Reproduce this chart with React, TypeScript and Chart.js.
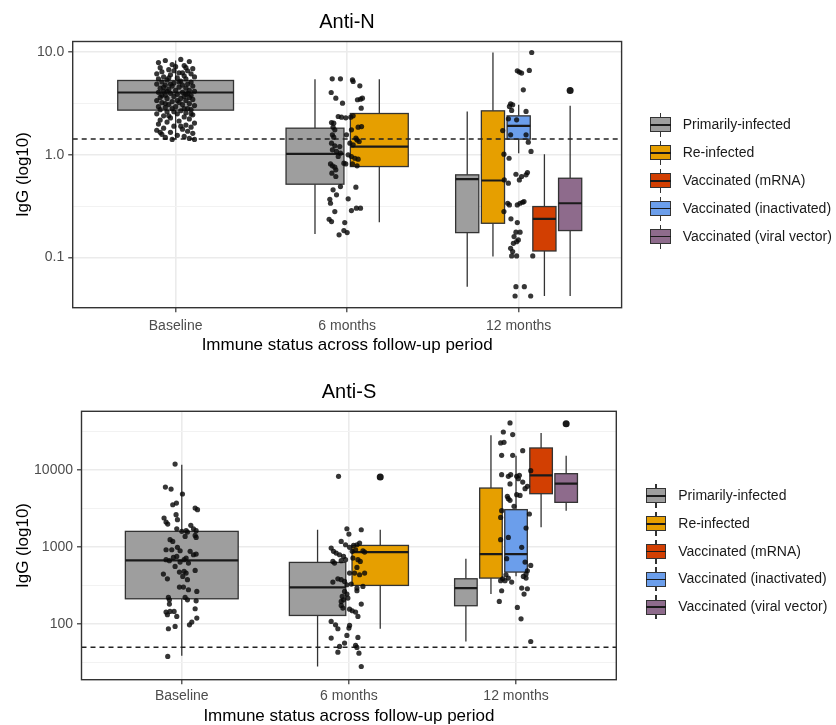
import React, { useEffect, useRef } from 'react';
import { Chart, registerables } from 'chart.js';

Chart.register(...registerables);

// ---------------- DATA ----------------
const timepoints = ['Baseline', '6 months', '12 months'];
const groups = [
  'Primarily-infected',
  'Re-infected',
  'Vaccinated (mRNA)',
  'Vaccinated (inactivated)',
  'Vaccinated (viral vector)',
];
const groupColors = ['#9E9E9E', '#E69F00', '#D23F02', '#6B9EEB', '#8E6B8C'];

// groups present at each timepoint, in the order the boxes are dodged
const boxGroupsPerTimepoint = [[0], [0, 1], [0, 1, 3, 2, 4]];

// Anti-N box stats: [lower whisker, Q1, median, Q3, upper whisker] in log10 IgG
const antiN_baselineBoxes = [[0.155, 0.436, 0.608, 0.725, 0.92]];
const antiN_6mBoxes = [
  [-0.771, -0.286, 0.01, 0.26, 0.738],
  [-0.657, -0.114, 0.081, 0.403, 0.738],
];
const antiN_12mBoxes = [
  [-1.285, -0.758, -0.237, -0.195, 0.423],
  [-0.992, -0.667, -0.25, 0.429, 0.998],
  [0.016, 0.153, 0.283, 0.38, 0.488],
  [-1.376, -0.937, -0.624, -0.504, 0.007],
  [-1.376, -0.738, -0.472, -0.228, 0.478],
];
// outliers: [timepoint index, group index, log10 IgG]
const antiN_outliers = [[2, 4, 0.628]];
const antiN_cutoffLog10 = 0.155;

// Anti-S box stats
const antiS_baselineBoxes = [[1.59, 2.328, 2.825, 3.201, 4.065]];
const antiS_6mBoxes = [
  [1.451, 2.112, 2.475, 2.799, 3.222],
  [1.94, 2.501, 2.933, 3.019, 3.222],
];
const antiS_12mBoxes = [
  [1.775, 2.238, 2.467, 2.587, 2.847],
  [2.389, 2.596, 2.907, 3.762, 4.445],
  [2.62, 2.674, 2.907, 3.482, 4.181],
  [3.253, 3.689, 3.927, 4.281, 4.475],
  [3.469, 3.577, 3.819, 3.948, 4.181],
];
const antiS_outliers = [
  [1, 1, 3.905],
  [2, 4, 4.596],
];
const antiS_cutoffLog10 = 1.7;

// jittered observations: [jitter offset, log10 IgG]
const antiN_baselinePoints = [
  [-0.10, 0.90], [-0.06, 0.92], [0.03, 0.93], [0.08, 0.91], [-0.02, 0.88], [0.05, 0.87], [-0.09, 0.85], [0.10, 0.84], [0.00, 0.86], [-0.04, 0.83],
  [0.07, 0.82], [-0.08, 0.81], [0.02, 0.80], [-0.11, 0.79], [0.09, 0.79], [-0.03, 0.78], [0.05, 0.77], [-0.07, 0.76], [0.11, 0.76], [0.01, 0.75],
  [-0.10, 0.74], [0.06, 0.74], [-0.05, 0.73], [0.03, 0.72], [0.09, 0.71], [-0.08, 0.71], [-0.01, 0.70], [0.07, 0.69], [-0.11, 0.69], [0.04, 0.68],
  [-0.06, 0.68], [0.10, 0.67], [-0.02, 0.67], [0.02, 0.66], [-0.09, 0.65], [0.06, 0.65], [-0.04, 0.64], [0.08, 0.63], [0.00, 0.63], [-0.07, 0.62],
  [0.11, 0.62], [0.04, 0.61], [-0.10, 0.61], [-0.03, 0.60], [0.07, 0.60], [0.01, 0.59], [-0.06, 0.58], [0.09, 0.58], [-0.01, 0.57], [0.05, 0.57],
  [-0.09, 0.56], [0.03, 0.55], [-0.05, 0.55], [0.10, 0.54], [-0.11, 0.53], [0.06, 0.53], [-0.02, 0.52], [0.02, 0.51], [-0.08, 0.51], [0.08, 0.50],
  [-0.04, 0.49], [0.04, 0.49], [0.11, 0.48], [-0.10, 0.47], [0.00, 0.47], [-0.06, 0.46], [0.07, 0.45], [-0.02, 0.45], [0.09, 0.44], [-0.09, 0.44],
  [0.03, 0.43], [-0.05, 0.42], [0.06, 0.41], [-0.11, 0.40], [0.01, 0.40], [0.10, 0.39], [-0.07, 0.38], [0.05, 0.37], [-0.03, 0.36], [0.08, 0.35],
  [-0.09, 0.34], [0.02, 0.33], [-0.05, 0.32], [0.11, 0.31], [-0.10, 0.30], [0.06, 0.29], [-0.01, 0.28], [0.09, 0.27], [-0.07, 0.26], [0.04, 0.25],
  [-0.11, 0.24], [0.07, 0.23], [-0.03, 0.22], [0.10, 0.21], [-0.08, 0.20], [0.01, 0.19], [0.05, 0.18], [-0.06, 0.17], [0.08, 0.16], [-0.02, 0.15],
  [0.11, 0.15], [-0.09, 0.22], [0.03, 0.28], [-0.04, 0.75], [0.06, 0.85], [-0.07, 0.66], [0.02, 0.71], [-0.01, 0.82], [0.08, 0.56], [-0.05, 0.62],
  [0.04, 0.80], [-0.03, 0.69], [0.06, 0.59], [-0.08, 0.58], [0.01, 0.53], [-0.06, 0.50], [0.05, 0.45], [-0.01, 0.42], [0.09, 0.40], [-0.04, 0.38],
];
const antiN_6mPoints = [
  [-0.087, 0.741], [-0.039, 0.741], [0.031, 0.732], [0.035, 0.715], [0.074, 0.673], [-0.093, 0.608], [-0.066, 0.553], [0.06, 0.537], [0.078, 0.543], [0.089, 0.553],
  [-0.027, 0.504], [0.082, 0.455], [-0.052, 0.374], [-0.033, 0.367], [-0.008, 0.361], [0.021, 0.367], [0.035, 0.38], [-0.091, 0.315], [-0.078, 0.309], [-0.082, 0.27],
  [-0.072, 0.244], [0.064, 0.27], [0.084, 0.276], [0.025, 0.244], [-0.086, 0.195], [-0.078, 0.172], [-0.004, 0.195], [0.051, 0.163], [0.058, 0.146], [0.07, 0.13],
  [-0.091, 0.114], [-0.072, 0.088], [-0.043, 0.081], [0.016, 0.114], [0.035, 0.098], [-0.086, 0.049], [-0.062, 0.033], [-0.039, 0.016], [-0.052, -0.016], [0.006, 0.0],
  [0.025, -0.016], [0.045, -0.033], [0.064, -0.042], [-0.019, -0.081], [-0.008, -0.088], [-0.097, -0.088], [-0.086, -0.107], [-0.072, -0.12], [-0.066, -0.146], [-0.089, -0.179],
  [-0.066, -0.211], [0.058, -0.107], [0.031, -0.088], [-0.039, -0.309], [0.051, -0.315], [-0.082, -0.341], [-0.062, -0.39], [0.006, -0.429], [-0.101, -0.433], [-0.097, -0.472],
  [-0.072, -0.553], [0.025, -0.543], [0.054, -0.52], [0.078, -0.52], [-0.105, -0.628], [-0.091, -0.65], [-0.014, -0.66], [-0.019, -0.738], [0.0, -0.758], [-0.047, -0.78],
];
const antiN_12mPoints = [
  [0.076, 0.998], [-0.008, 0.82], [0.004, 0.807], [0.017, 0.797], [0.062, 0.823], [0.027, 0.634], [-0.047, 0.498], [-0.035, 0.488], [-0.054, 0.472], [-0.041, 0.433],
  [0.043, 0.423], [-0.06, 0.351], [-0.012, 0.341], [-0.093, 0.237], [-0.047, 0.195], [0.043, 0.195], [0.056, 0.124], [0.072, 0.033], [-0.086, 0.007], [-0.056, -0.033],
  [-0.016, -0.189], [0.017, -0.211], [0.043, -0.195], [0.051, -0.172], [0.004, -0.244], [-0.06, -0.276], [-0.084, -0.244], [-0.064, -0.472], [-0.054, -0.488], [-0.008, -0.488],
  [0.008, -0.472], [0.023, -0.462], [0.031, -0.455], [-0.086, -0.553], [-0.045, -0.624], [-0.008, -0.66], [-0.016, -0.754], [0.008, -0.754], [-0.027, -0.797], [-0.002, -0.829],
  [-0.012, -0.846], [-0.031, -0.862], [-0.047, -0.911], [-0.035, -0.943], [-0.041, -0.985], [-0.012, -0.985], [0.082, -0.985], [-0.016, -1.285], [0.033, -1.285], [-0.021, -1.376],
  [0.07, -1.376],
];

const antiS_baselinePoints = [
  [-0.04, 4.073], [-0.098, 3.775], [-0.064, 3.749], [0.004, 3.685], [-0.054, 3.546], [-0.032, 3.568], [0.08, 3.503], [0.094, 3.482], [-0.034, 3.417], [-0.026, 3.352],
  [-0.106, 3.374], [-0.094, 3.322], [-0.084, 3.296], [-0.03, 3.235], [0.0, 3.201], [0.026, 3.21], [0.034, 3.192], [0.054, 3.279], [0.07, 3.235], [0.086, 3.21],
  [0.08, 3.149], [0.086, 3.123], [0.02, 3.136], [-0.07, 3.093], [-0.054, 3.071], [-0.094, 2.963], [-0.06, 2.963], [-0.026, 2.994], [-0.01, 2.95], [0.05, 2.942],
  [0.07, 2.898], [0.086, 2.907], [-0.094, 2.834], [-0.074, 2.821], [-0.05, 2.864], [-0.03, 2.877], [-0.01, 2.803], [0.014, 2.834], [0.026, 2.855], [0.04, 2.79],
  [-0.04, 2.747], [-0.11, 2.648], [-0.086, 2.587], [-0.014, 2.674], [0.014, 2.683], [0.026, 2.661], [0.006, 2.618], [0.034, 2.575], [0.08, 2.695], [-0.014, 2.479],
  [0.01, 2.479], [0.04, 2.445], [0.09, 2.423], [-0.08, 2.346], [-0.074, 2.315], [-0.074, 2.259], [0.02, 2.346], [0.034, 2.315], [0.086, 2.302], [-0.094, 2.156],
  [-0.086, 2.121], [-0.07, 2.164], [-0.046, 2.164], [-0.03, 2.099], [0.08, 2.199], [0.09, 2.078], [0.06, 2.026], [0.046, 1.991], [-0.04, 1.97], [-0.08, 1.94],
  [-0.084, 1.581],
];
const antiS_6mPoints = [
  [-0.062, 3.914], [-0.012, 3.235], [0.074, 3.222], [0.0, 3.166], [-0.046, 3.071], [-0.02, 3.028], [0.004, 2.994], [0.028, 3.019], [0.048, 3.028], [0.064, 3.05],
  [-0.106, 2.985], [-0.092, 2.942], [-0.076, 2.92], [-0.056, 2.898], [-0.032, 2.877], [0.02, 2.942], [0.04, 2.963], [0.084, 2.95], [0.094, 2.933], [-0.096, 2.812],
  [-0.086, 2.79], [-0.046, 2.821], [-0.02, 2.834], [0.024, 2.855], [0.054, 2.834], [0.068, 2.812], [0.048, 2.734], [0.004, 2.661], [0.034, 2.661], [0.064, 2.639],
  [0.094, 2.661], [-0.066, 2.587], [-0.046, 2.575], [-0.026, 2.553], [-0.096, 2.544], [-0.012, 2.51], [0.014, 2.518], [0.048, 2.467], [0.084, 2.488], [-0.026, 2.423],
  [-0.012, 2.389], [-0.04, 2.359], [-0.032, 2.315], [-0.046, 2.294], [-0.006, 2.337], [0.048, 2.432], [-0.046, 2.242], [-0.036, 2.207], [0.004, 2.194], [0.02, 2.173],
  [0.04, 2.156], [0.054, 2.099], [0.074, 2.259], [-0.106, 2.035], [-0.08, 1.991], [-0.066, 1.94], [0.004, 1.983], [0.0, 1.948], [-0.012, 1.853], [-0.106, 1.819],
  [0.054, 1.827], [-0.026, 1.754], [-0.056, 1.711], [0.04, 1.724], [0.048, 1.698], [-0.066, 1.637], [0.06, 1.624], [0.074, 1.451],
];
const antiS_12mPoints = [
  [-0.036, 4.605], [-0.076, 4.488], [-0.02, 4.454], [-0.092, 4.346], [-0.072, 4.354], [-0.086, 4.186], [0.04, 4.246], [-0.02, 4.186], [-0.086, 3.935], [-0.046, 3.914],
  [-0.032, 3.935], [-0.036, 3.815], [0.004, 3.914], [0.02, 3.927], [0.014, 3.883], [0.04, 3.84], [0.088, 3.987], [0.068, 3.784], [0.054, 3.754], [0.004, 3.676],
  [0.024, 3.667], [-0.052, 3.654], [-0.046, 3.624], [-0.036, 3.603], [-0.012, 3.525], [-0.086, 3.469], [-0.092, 3.382], [0.08, 3.426], [0.06, 3.244], [-0.046, 3.123],
  [0.034, 2.994], [-0.092, 3.093], [-0.056, 2.847], [0.054, 2.803], [0.088, 2.76], [0.068, 2.691], [0.06, 2.648], [-0.06, 2.639], [-0.08, 2.587], [-0.092, 2.562],
  [-0.066, 2.562], [-0.046, 2.596], [-0.026, 2.544], [0.044, 2.618], [0.06, 2.596], [-0.086, 2.432], [0.034, 2.467], [0.068, 2.458], [0.048, 2.389], [-0.1, 2.294],
  [0.008, 2.216], [0.03, 2.069], [0.088, 1.775],
];

const antiN_yTicks = [-1, -0.5, 0, 0.5, 1];
const antiS_yTicks = [1.5, 2, 2.5, 3, 3.5, 4, 4.5];

// ---------------- HELPERS ----------------
const FONT = 'Liberation Sans, Arial, Helvetica, sans-serif';

function dodge(tp: number, slot: number, n: number) {
  return { center: tp + 1 - 0.375 + (0.75 * (slot + 0.5)) / n, half: 0.3375 / n };
}

function buildBoxes(boxSets: number[][][]) {
  const out: any[] = [];
  boxSets.forEach((stats, tp) => {
    const order = boxGroupsPerTimepoint[tp];
    order.forEach((g, i) => {
      out.push({ ...dodge(tp, i, order.length), stats: stats[i], color: groupColors[g] });
    });
  });
  return out;
}

function outlierData(outs: number[][]) {
  return outs.map(([tp, g, v]) => {
    const order = boxGroupsPerTimepoint[tp];
    const slot = order.indexOf(g);
    return { x: dodge(tp, slot, order.length).center, y: v };
  });
}

function pointData(sets: number[][][]) {
  const out: any[] = [];
  sets.forEach((pts, tp) => pts.forEach(([off, v]) => out.push({ x: tp + 1 + off, y: v })));
  return out;
}

function makeBoxPlugin(boxes: any[]) {
  return {
    id: 'boxplots',
    beforeDatasetsDraw(chart: any) {
      const { ctx, chartArea, scales } = chart;
      const x = scales.x;
      const y = scales.y;
      ctx.save();
      ctx.beginPath();
      ctx.rect(chartArea.left, chartArea.top, chartArea.width, chartArea.height);
      ctx.clip();
      boxes.forEach((b) => {
        const xc = x.getPixelForValue(b.center);
        const x0 = x.getPixelForValue(b.center - b.half);
        const x1 = x.getPixelForValue(b.center + b.half);
        const [lo, q1, md, q3, hi] = b.stats.map((v: number) => y.getPixelForValue(v));
        ctx.strokeStyle = '#333333';
        ctx.lineWidth = 1.3;
        ctx.beginPath();
        ctx.moveTo(xc, hi);
        ctx.lineTo(xc, q3);
        ctx.moveTo(xc, q1);
        ctx.lineTo(xc, lo);
        ctx.stroke();
        ctx.fillStyle = b.color;
        ctx.fillRect(x0, q3, x1 - x0, q1 - q3);
        ctx.strokeRect(x0, q3, x1 - x0, q1 - q3);
        ctx.strokeStyle = '#1a1a1a';
        ctx.lineWidth = 2.2;
        ctx.beginPath();
        ctx.moveTo(x0, md);
        ctx.lineTo(x1, md);
        ctx.stroke();
      });
      ctx.restore();
    },
  };
}

const borderPlugin = {
  id: 'panelBorder',
  afterDraw(chart: any) {
    const { ctx, chartArea } = chart;
    ctx.save();
    ctx.strokeStyle = '#333333';
    ctx.lineWidth = 1.4;
    ctx.strokeRect(chartArea.left, chartArea.top, chartArea.width, chartArea.height);
    ctx.restore();
  },
};

interface PanelCfg {
  title: string;
  titlePadTop: number;
  titlePadBottom: number;
  yMin: number;
  yMax: number;
  yTicks: number[];
  yLabel: (v: number) => string;
  leftWidth: number;
  rightWidth: number;
  xHeight: number;
  xTickPad: number;
  xTitlePadBottom: number;
  xTitleLineHeight: number;
  boxes: any[];
  points: any[];
  outliers: any[];
  cutoff: number;
}

function buildConfig(c: PanelCfg): any {
  const isMajor = (ctx: any) => ctx.tick && Number.isInteger(ctx.tick.value);
  return {
    type: 'scatter',
    data: {
      datasets: [
        {
          type: 'line',
          data: [
            { x: 0.4, y: c.cutoff },
            { x: 3.6, y: c.cutoff },
          ],
          borderColor: '#222222',
          borderWidth: 1.5,
          borderDash: [5, 4],
          pointRadius: 0,
          fill: false,
          order: 3,
        },
        {
          data: c.points,
          pointRadius: 2.6,
          pointBackgroundColor: 'rgba(10,10,10,0.82)',
          pointBorderWidth: 0,
          order: 1,
        },
        {
          data: c.outliers,
          pointRadius: 3.5,
          pointBackgroundColor: '#1a1a1a',
          pointBorderWidth: 0,
          order: 0,
        },
      ],
    },
    options: {
      animation: false,
      responsive: false,
      events: [],
      layout: { padding: 0 },
      plugins: {
        legend: { display: false },
        tooltip: { enabled: false },
        title: {
          display: true,
          text: c.title,
          color: '#000000',
          font: { family: FONT, size: 20, weight: 'normal' },
          padding: { top: c.titlePadTop, bottom: c.titlePadBottom },
        },
      },
      scales: {
        x: {
          type: 'linear',
          min: 0.4,
          max: 3.6,
          afterBuildTicks: (s: any) => {
            s.ticks = timepoints.map((_, i) => ({ value: i + 1 }));
          },
          afterFit: (s: any) => {
            s.height = c.xHeight;
          },
          ticks: {
            autoSkip: false,
            maxRotation: 0,
            padding: c.xTickPad,
            color: '#4D4D4D',
            font: { family: FONT, size: 14 },
            callback: (v: number) => timepoints[Math.round(v) - 1] ?? '',
          },
          grid: {
            color: '#EBEBEB',
            lineWidth: 1.6,
            tickLength: 4.5,
            tickColor: '#333333',
            tickWidth: 1.2,
          },
          border: { display: false },
          title: {
            display: true,
            text: 'Immune status across follow-up period',
            color: '#000000',
            font: { family: FONT, size: 17, lineHeight: c.xTitleLineHeight },
            padding: { top: 0, bottom: c.xTitlePadBottom },
          },
        },
        y: {
          type: 'linear',
          position: 'left',
          min: c.yMin,
          max: c.yMax,
          afterBuildTicks: (s: any) => {
            s.ticks = c.yTicks.map((v) => ({ value: v }));
          },
          afterFit: (s: any) => {
            s.width = c.leftWidth;
          },
          ticks: {
            autoSkip: false,
            padding: 4,
            color: '#4D4D4D',
            font: { family: FONT, size: 14 },
            callback: (v: number) => (Number.isInteger(v) ? c.yLabel(v) : ''),
          },
          grid: {
            color: (ctx: any) => (isMajor(ctx) ? '#EBEBEB' : '#F2F2F2'),
            lineWidth: (ctx: any) => (isMajor(ctx) ? 1.6 : 1.1),
            tickLength: 4.5,
            tickColor: (ctx: any) => (isMajor(ctx) ? '#333333' : 'rgba(0,0,0,0)'),
            tickWidth: 1.2,
          },
          border: { display: false },
          title: {
            display: true,
            text: 'IgG (log10)',
            color: '#000000',
            font: { family: FONT, size: 17 },
            padding: { top: 13, bottom: 0 },
          },
        },
        yRight: {
          type: 'linear',
          position: 'right',
          display: true,
          grid: { display: false },
          ticks: { display: false },
          border: { display: false },
          afterFit: (s: any) => {
            s.width = c.rightWidth;
          },
        },
      },
    },
    plugins: [makeBoxPlugin(c.boxes), borderPlugin],
  };
}

const antiNCfg: PanelCfg = {
  title: 'Anti-N',
  titlePadTop: 10,
  titlePadBottom: 7.5,
  yMin: -1.49,
  yMax: 1.105,
  yTicks: antiN_yTicks,
  yLabel: (v) => Math.pow(10, v).toFixed(1),
  leftWidth: 72.7,
  rightWidth: 72.4,
  xHeight: 54.3,
  xTickPad: 5.2,
  xTitlePadBottom: 6.5,
  xTitleLineHeight: 1.2,
  boxes: buildBoxes([antiN_baselineBoxes, antiN_6mBoxes, antiN_12mBoxes]),
  points: pointData([antiN_baselinePoints, antiN_6mPoints, antiN_12mPoints]),
  outliers: outlierData(antiN_outliers),
  cutoff: antiN_cutoffLog10,
};

const antiSCfg: PanelCfg = {
  title: 'Anti-S',
  titlePadTop: 18,
  titlePadBottom: 7.3,
  yMin: 1.28,
  yMax: 4.756,
  yTicks: antiS_yTicks,
  yLabel: (v) => String(Math.round(Math.pow(10, v))),
  leftWidth: 81.5,
  rightWidth: 81.7,
  xHeight: 45.3,
  xTickPad: 3.2,
  xTitlePadBottom: 0,
  xTitleLineHeight: 1.0,
  boxes: buildBoxes([antiS_baselineBoxes, antiS_6mBoxes, antiS_12mBoxes]),
  points: pointData([antiS_baselinePoints, antiS_6mPoints, antiS_12mPoints]),
  outliers: outlierData(antiS_outliers),
  cutoff: antiS_cutoffLog10,
};

function Panel({ cfg, top, width, height }: { cfg: PanelCfg; top: number; width: number; height: number }) {
  const ref = useRef<HTMLCanvasElement | null>(null);
  useEffect(() => {
    if (!ref.current) return;
    const chart = new Chart(ref.current, buildConfig(cfg));
    return () => chart.destroy();
  }, [cfg]);
  return (
    <canvas
      ref={ref}
      width={width}
      height={height}
      style={{ position: 'absolute', left: 0, top, width, height }}
    />
  );
}

function Legend({ left, top, step, textOffset }: { left: number; top: number; step: number; textOffset: number }) {
  return (
    <div style={{ position: 'absolute', left, top }}>
      {groups.map((g, i) => (
        <div key={g} style={{ position: 'relative', height: step, width: 200 }}>
          <div
            style={{
              position: 'absolute',
              left: 9.8,
              top: step / 2 - 12,
              width: 1.2,
              height: 24,
              background: '#333333',
            }}
          />
          <div
            style={{
              position: 'absolute',
              left: 0,
              top: step / 2 - 7.5,
              width: 20.8,
              height: 15,
              boxSizing: 'border-box',
              background: groupColors[i],
              border: '1.2px solid #333333',
            }}
          />
          <div
            style={{
              position: 'absolute',
              left: 0,
              top: step / 2 - 0.8,
              width: 20.8,
              height: 1.6,
              background: '#1a1a1a',
            }}
          />
          <div
            style={{
              position: 'absolute',
              left: textOffset,
              top: 0,
              height: step,
              lineHeight: `${step}px`,
              fontFamily: FONT,
              fontSize: 14,
              color: '#1a1a1a',
              whiteSpace: 'nowrap',
            }}
          >
            {g}
          </div>
        </div>
      ))}
    </div>
  );
}

export default function App() {
  return (
    <div
      style={{
        position: 'absolute',
        left: 0,
        top: 0,
        width: 836,
        height: 725,
        background: '#ffffff',
        overflow: 'hidden',
      }}
    >
      <Panel cfg={antiNCfg} top={0} width={694} height={362} />
      <Panel cfg={antiSCfg} top={362} width={698} height={363} />
      <Legend left={650} top={111} step={27.9} textOffset={32.7} />
      <Legend left={645.7} top={482.1} step={27.8} textOffset={32.6} />
    </div>
  );
}
